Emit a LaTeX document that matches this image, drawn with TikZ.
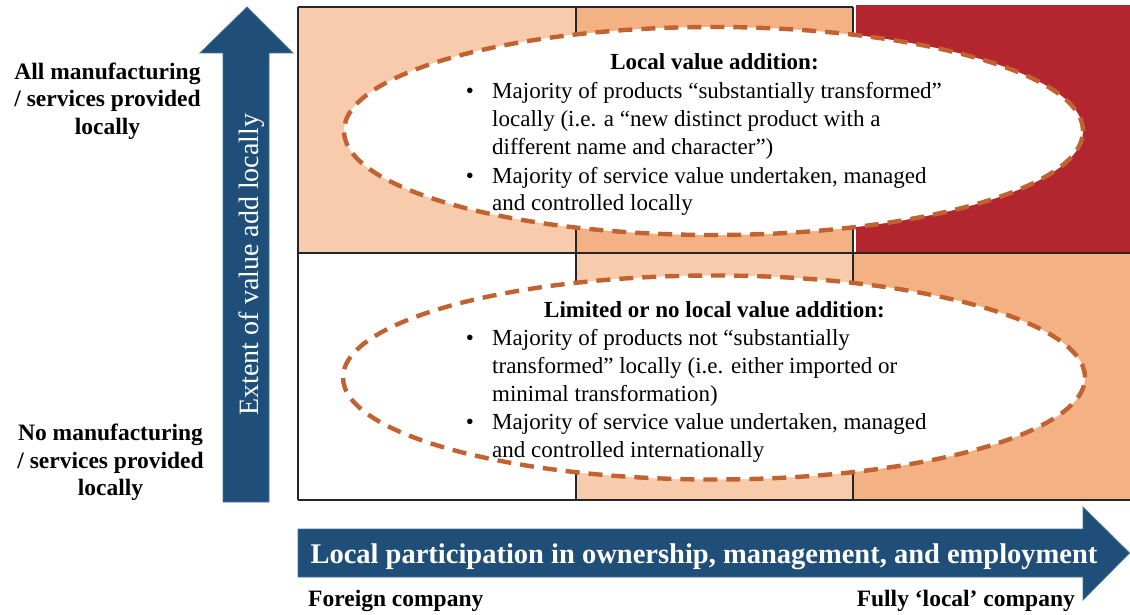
\documentclass[tikz,border=0pt]{standalone}
\usepackage{fontspec}
\setmainfont{Liberation Serif}
\definecolor{peachL}{HTML}{F8CBAD}
\definecolor{peachM}{HTML}{F4B183}
\definecolor{deepred}{HTML}{B4262F}
\definecolor{navy}{HTML}{1F4E79}
\definecolor{navyedge}{HTML}{41719C}
\definecolor{ovalc}{RGB}{193,98,48}
\begin{document}
\begin{tikzpicture}[x=1pt,y=-1pt,
  gridline/.style={draw=black!85, line width=1.2pt},
  oval/.style={draw=ovalc, fill=white, line width=4.4pt, dash pattern=on 14pt off 9pt},
  bluearrow/.style={fill=navy, draw=navyedge, line width=0.8pt},
  body/.style={font=\fontsize{23}{28}\selectfont, inner sep=0pt, anchor=base west},
  bul/.style={font=\fontsize{23}{28}\selectfont, inner sep=0pt, anchor=base},
  head/.style={font=\bfseries\fontsize{23}{28}\selectfont, inner sep=0pt, anchor=base},
  lbl/.style={font=\bfseries\fontsize{23.5}{28}\selectfont, inner sep=0pt, anchor=base}]
\useasboundingbox (0,0) rectangle (1130,615);
% cells
\fill[peachL] (298,7) rectangle (576,253);
\fill[peachM] (576,7) rectangle (853,253);
\fill[deepred] (855.5,5.5) rectangle (1130,252.5);
\fill[white] (298,253) rectangle (576,500);
\fill[peachL] (576,253) rectangle (853,500);
\fill[peachM] (853,253) rectangle (1130,500);
% grid lines
\draw[gridline] (298,7) -- (853,7);
\draw[gridline] (298,253) -- (1130,253);
\draw[gridline] (298,500) -- (1130,500);
\draw[gridline] (298,7) -- (298,500);
\draw[gridline] (576,7) -- (576,500);
\draw[gridline] (853,7) -- (853,500);
% ovals
\draw[oval] (713.5,131) ellipse [x radius=369.5pt, y radius=104pt];
\draw[oval] (714,377.5) ellipse [x radius=371pt, y radius=102pt];
% top block text
\node[head] (tt) at (714.5,70) {Local value addition:};
\node[bul] (tb1) at (470,99) {•};
\node[body] (tl1) at (492,99) {Majority of products “substantially transformed”};
\node[body] (tl2) at (492,127) {locally (i.e. a “new distinct product with a};
\node[body] (tl3) at (492,155) {different name and character”)};
\node[bul] (tb2) at (470,183) {•};
\node[body] (tl4) at (492,183) {Majority of service value undertaken, managed};
\node[body] (tl5) at (492,211) {and controlled locally};
% bottom block text
\node[head] (bt) at (714.5,317) {Limited or no local value addition:};
\node[bul] (bb1) at (470,345) {•};
\node[body] (bl1) at (492,345) {Majority of products not “substantially};
\node[body] (bl2) at (492,373) {transformed” locally (i.e. either imported or};
\node[body] (bl3) at (492,401) {minimal transformation)};
\node[bul] (bb2) at (470,429) {•};
\node[body] (bl4) at (492,429) {Majority of service value undertaken, managed};
\node[body] (bl5) at (492,457) {and controlled internationally};
% vertical arrow
\draw[bluearrow] (223,502) -- (269,502) -- (269,53) -- (293,53) -- (247,7) -- (200,53) -- (223,53) -- cycle;
\node[font=\fontsize{28}{30}\selectfont, text=white, inner sep=0pt, anchor=base, rotate=90] (vtxt) at (258,264.5) {Extent of value add locally};
% horizontal arrow
\draw[bluearrow] (298,529) -- (1083,529) -- (1083,507) -- (1129.5,553) -- (1083,600) -- (1083,577) -- (298,577) -- cycle;
\node[font=\bfseries\fontsize{28.5}{30}\selectfont, text=white, inner sep=0pt, anchor=base] (htxt) at (704,563) {Local participation in ownership, management, and employment};
% left labels
\node[lbl] (a1) at (107.5,80) {All manufacturing};
\node[lbl] (a2) at (107.5,107) {/ services provided};
\node[lbl] (a3) at (107.5,135) {locally};
\node[lbl] (n1) at (110.5,440) {No manufacturing};
\node[lbl] (n2) at (110.5,468) {/ services provided};
\node[lbl] (n3) at (110.5,495) {locally};
% bottom labels
\node[lbl, anchor=base west] (fc) at (308,606) {Foreign company};
\node[lbl, anchor=base east] (lc) at (1075,606) {Fully ‘local’ company};
\end{tikzpicture}
\end{document}
